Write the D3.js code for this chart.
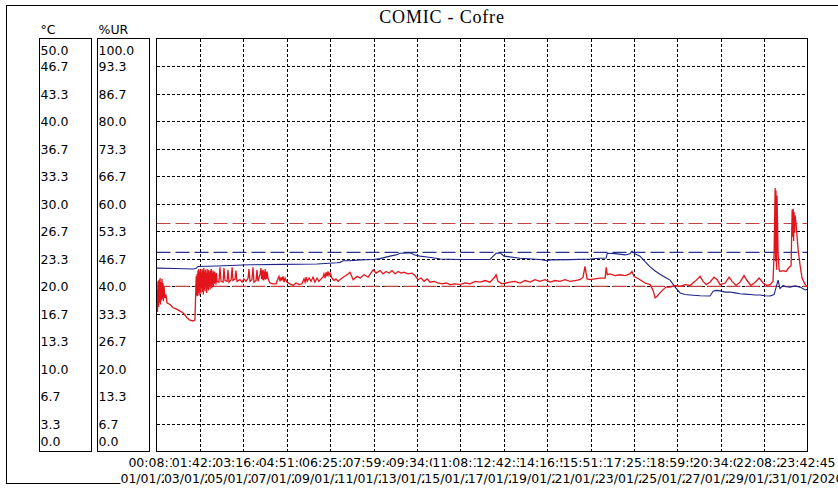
<!DOCTYPE html>
<html>
<head>
<meta charset="utf-8">
<script src="https://cdn.jsdelivr.net/npm/d3@7"></script>
<style>
  body { margin: 0; background: #fff; }
  svg { display: block; }
  text { font-family: "DejaVu Sans", sans-serif; font-size: 12.5px; fill: #000; }
</style>
</head>
<body>
<div class="js-chart"></div>
<script>
var title = 'COMIC - Cofre';

var tempLabels = ['50.0', '46.7', '43.3', '40.0', '36.7', '33.3', '30.0', '26.7',
  '23.3', '20.0', '16.7', '13.3', '10.0', '6.7', '3.3', '0.0'];
var humLabels = ['100.0', '93.3', '86.7', '80.0', '73.3', '66.7', '60.0', '53.3',
  '46.7', '40.0', '33.3', '26.7', '20.0', '13.3', '6.7', '0.0'];

var timeLabels = ['00:08:10', '01:42:28', '03:16:46', '04:51:05', '06:25:23', '07:59:41',
  '09:34:00', '11:08:18', '12:42:36', '14:16:55', '15:51:13', '17:25:31', '18:59:50',
  '20:34:08', '22:08:26', '23:42:45'];
var dateLabels = ['01/01/2020', '03/01/2020', '05/01/2020', '07/01/2020', '09/01/2020',
  '11/01/2020', '13/01/2020', '15/01/2020', '17/01/2020', '19/01/2020', '21/01/2020',
  '23/01/2020', '25/01/2020', '27/01/2020', '29/01/2020', '31/01/2020'];

// days since the first sample
var spanDays = 30.98;

// temperature, degC
var tempSeries = [
  [0.02, 19.6], [0.05, 16.9], [0.07, 20.6], [0.10, 17.5], [0.12, 20.8], [0.14, 18.0],
  [0.17, 21.0], [0.19, 17.8], [0.21, 20.5], [0.24, 18.3], [0.26, 20.9], [0.29, 18.5],
  [0.31, 20.4], [0.33, 18.2], [0.36, 19.9], [0.40, 18.6], [0.45, 19.0], [0.50, 18.0],
  [0.64, 17.8], [0.79, 17.4], [0.98, 17.2], [1.12, 17.0], [1.26, 16.8], [1.36, 16.5],
  [1.45, 16.2], [1.59, 15.9], [1.74, 15.8], [1.83, 15.9],
  [1.87, 19.6], [1.89, 21.2], [1.91, 18.9], [1.93, 21.5], [1.95, 18.8], [1.97, 21.9],
  [1.99, 19.2], [2.01, 22.1], [2.03, 18.9], [2.05, 21.8], [2.07, 19.5], [2.09, 22.0],
  [2.11, 19.1], [2.13, 21.7], [2.15, 19.8], [2.17, 22.1], [2.19, 19.3], [2.21, 21.9],
  [2.23, 19.0], [2.25, 22.2], [2.27, 19.6], [2.29, 21.8], [2.31, 19.4], [2.33, 22.0],
  [2.35, 19.9], [2.37, 21.6], [2.39, 19.2], [2.41, 22.1], [2.43, 19.7], [2.45, 21.8],
  [2.47, 19.5], [2.49, 22.0], [2.51, 20.1], [2.53, 21.7], [2.55, 19.6], [2.57, 21.9],
  [2.59, 20.0], [2.61, 22.1], [2.63, 19.8], [2.65, 21.6], [2.67, 20.2], [2.69, 21.9],
  [2.71, 19.9], [2.73, 21.7], [2.75, 20.3], [2.77, 21.8], [2.79, 20.4], [2.81, 21.5],
  [2.83, 20.2], [2.85, 21.6], [2.88, 20.6],
  [2.97, 20.5], [3.02, 22.3], [3.07, 20.6], [3.17, 20.5], [3.21, 22.2], [3.26, 20.7],
  [3.36, 20.6], [3.40, 22.0], [3.45, 20.5], [3.55, 20.8], [3.60, 22.3], [3.64, 20.7],
  [3.74, 20.9], [3.78, 21.9], [3.83, 20.6], [3.97, 20.8], [4.07, 20.5], [4.16, 20.9],
  [4.26, 20.6], [4.36, 21.0], [4.40, 22.1], [4.45, 20.6], [4.54, 20.8], [4.59, 22.3],
  [4.64, 20.5], [4.74, 20.7], [4.78, 22.0], [4.83, 20.6], [4.93, 21.5], [4.97, 22.2],
  [5.00, 20.9], [5.02, 21.9], [5.05, 20.8], [5.07, 22.0], [5.10, 20.7], [5.12, 21.8],
  [5.15, 20.9], [5.17, 22.1], [5.19, 20.8], [5.21, 21.7], [5.24, 20.9], [5.26, 21.8],
  [5.31, 20.9], [5.40, 20.4], [5.55, 20.3], [5.69, 20.3], [5.78, 20.9], [5.83, 21.2],
  [5.88, 20.6], [5.93, 21.1], [5.97, 20.7], [6.02, 21.2], [6.07, 20.5], [6.12, 21.0],
  [6.21, 20.5], [6.35, 20.3], [6.50, 20.1], [6.64, 20.4], [6.78, 20.2], [6.92, 20.3],
  [7.02, 20.9], [7.07, 20.5], [7.12, 21.1], [7.17, 20.6], [7.26, 21.0], [7.35, 20.6],
  [7.45, 21.1], [7.54, 20.5], [7.64, 21.0], [7.73, 20.6], [7.83, 20.9], [7.92, 21.1],
  [7.97, 21.5], [8.02, 21.0], [8.07, 21.7], [8.12, 21.2], [8.16, 21.8], [8.21, 21.3],
  [8.26, 21.6], [8.35, 21.0], [8.45, 20.7], [8.54, 20.9], [8.64, 20.6], [8.73, 20.8],
  [8.88, 21.1], [9.02, 21.3], [9.21, 21.7], [9.36, 20.8], [9.55, 21.2], [9.69, 21.0],
  [9.88, 21.4], [10.07, 21.1], [10.31, 22.0], [10.45, 21.6], [10.64, 21.9], [10.78, 21.5],
  [10.92, 21.8], [11.07, 21.6], [11.21, 21.9], [11.35, 21.5], [11.50, 21.8], [11.64, 21.6],
  [11.78, 21.7], [11.97, 21.5], [12.16, 21.6], [12.30, 21.3], [12.45, 20.8], [12.59, 21.0],
  [12.73, 20.6], [12.88, 20.9], [13.02, 20.5], [13.21, 20.6], [13.40, 20.4], [13.59, 20.3],
  [13.78, 20.4], [13.97, 20.2], [14.21, 20.3], [14.44, 20.2], [14.68, 20.4], [14.92, 20.3],
  [15.16, 20.6], [15.40, 20.5], [15.64, 20.7], [15.87, 20.5], [16.06, 21.0], [16.16, 21.4],
  [16.25, 20.6], [16.44, 20.3], [16.63, 20.4], [16.82, 20.5], [17.06, 20.6], [17.30, 20.4],
  [17.54, 20.7], [17.78, 20.5], [18.01, 20.8], [18.25, 20.6], [18.49, 20.8], [18.73, 20.5],
  [18.97, 20.7], [19.20, 20.6], [19.44, 20.8], [19.68, 20.6], [19.92, 20.7], [20.15, 20.8],
  [20.30, 21.1], [20.39, 22.4], [20.49, 20.9], [20.63, 20.8], [20.87, 20.9], [21.11, 21.0],
  [21.35, 21.0], [21.40, 22.3], [21.45, 21.4], [21.58, 21.5], [21.82, 21.3], [22.06, 21.4],
  [22.30, 21.3], [22.53, 21.5], [22.63, 21.8], [22.72, 21.2], [22.87, 21.0], [23.01, 20.8],
  [23.25, 20.4], [23.49, 20.2], [23.63, 19.5], [23.73, 18.6], [23.82, 18.8], [23.96, 19.2],
  [24.11, 19.6], [24.25, 19.9], [24.44, 19.9], [24.68, 20.1], [24.92, 20.0], [25.15, 20.2],
  [25.39, 20.1], [25.63, 20.6], [25.87, 21.2], [26.01, 20.6], [26.16, 20.2], [26.34, 20.5],
  [26.53, 21.1], [26.68, 20.8], [26.82, 20.2], [27.06, 20.4], [27.25, 21.1], [27.39, 20.6],
  [27.58, 20.1], [27.77, 20.5], [27.96, 21.3], [28.10, 20.7], [28.29, 20.1], [28.49, 20.5],
  [28.68, 21.0], [28.87, 20.4], [29.06, 20.1], [29.20, 20.2], [29.34, 20.6], [29.39, 24.0],
  [29.44, 31.9], [29.46, 23.0], [29.48, 31.6], [29.51, 22.0], [29.53, 31.0], [29.58, 24.0],
  [29.63, 22.0], [29.67, 21.8], [29.82, 21.9], [29.96, 21.8], [30.11, 22.3], [30.20, 22.5],
  [30.25, 29.3], [30.27, 26.0], [30.30, 29.4], [30.32, 25.5], [30.34, 29.0], [30.37, 26.5],
  [30.39, 28.6], [30.44, 27.5], [30.53, 24.5], [30.63, 22.5], [30.72, 21.0], [30.87, 20.2],
  [30.98, 19.9]
];

// relative humidity, %UR
var humSeries = [
  [0.02, 44.4], [0.88, 44.3], [1.74, 44.2], [1.88, 44.3], [1.97, 44.8], [2.88, 44.9],
  [4.45, 45.2], [6.02, 45.3], [7.64, 45.4], [8.59, 45.7], [8.73, 45.8], [8.88, 46.2],
  [9.21, 46.2], [9.69, 46.4], [10.31, 46.5], [10.64, 46.7], [11.11, 47.3], [11.40, 47.6],
  [11.59, 48.0], [12.07, 48.1], [12.30, 47.6], [12.54, 47.3], [12.88, 47.1], [13.30, 46.8],
  [13.49, 46.6], [14.44, 46.5], [15.87, 46.5], [16.16, 48.0], [16.35, 48.1], [16.54, 47.3],
  [17.30, 46.8], [18.25, 46.5], [18.59, 46.2], [18.73, 46.4], [19.68, 46.45], [20.63, 46.6],
  [21.11, 46.8], [21.40, 46.85], [21.45, 48.0], [21.82, 47.9], [22.30, 47.6], [22.53, 47.9],
  [22.63, 48.5], [22.77, 47.9], [23.01, 47.3], [23.25, 46.0], [23.49, 44.7], [23.73, 43.7],
  [23.96, 42.9], [24.20, 42.2], [24.44, 41.5], [24.68, 39.8], [24.92, 38.4], [25.15, 38.0],
  [25.39, 37.9], [25.87, 37.7], [26.34, 37.65], [26.49, 38.8], [26.63, 39.0], [26.82, 38.9],
  [27.06, 38.6], [27.29, 38.6], [27.53, 38.4], [27.77, 38.2], [28.01, 38.1], [28.25, 38.0],
  [28.49, 37.9], [28.72, 37.9], [28.96, 37.7], [29.20, 37.65], [29.39, 38.0], [29.58, 41.5],
  [29.67, 39.5], [29.82, 40.2], [29.96, 39.9], [30.15, 39.8], [30.39, 40.1], [30.63, 39.8],
  [30.87, 39.1], [30.98, 39.3]
];

var tempLimits = [27.6, 20.0];
var humLimits = [48.2];

var svg;

function drawLabelRow(g, labels, xPos, y) {
  // each label sits on an opaque cell, later ones hide the end of the previous one
  labels.forEach(function(label, i) {
    var cell = g.append('g');
    var t = cell.append('text')
      .attr('x', xPos(i))
      .attr('y', y)
      .attr('text-anchor', 'middle')
      .text(label);
    var b = t.node().getBBox();
    cell.insert('rect', 'text')
      .attr('x', b.x)
      .attr('y', b.y)
      .attr('width', b.width)
      .attr('height', b.height)
      .attr('fill', '#fff');
  });
}

function render() {
  var left = 156.5, right = 807.5, top = 38.5, bottom = 451.5;

  var x = d3.scaleLinear().domain([0, spanDays]).range([left, right]);
  var xTick = d3.scalePoint().domain(d3.range(timeLabels.length)).range([left, right]);
  var yTemp = d3.scaleLinear().domain([0, 50]).range([bottom, top]);
  var yHum = d3.scaleLinear().domain([0, 100]).range([bottom, top]);
  var yTick = d3.scalePoint().domain(d3.range(tempLabels.length)).range([top, bottom]);

  // outer frame
  svg.append('rect')
    .attr('x', 6.5).attr('y', 5.5)
    .attr('width', 900).attr('height', 478)
    .attr('fill', 'none').attr('stroke', '#000');

  svg.append('text')
    .attr('x', 442).attr('y', 23)
    .attr('text-anchor', 'middle')
    .style('font-family', '"Liberation Serif", serif')
    .style('font-size', '18px')
    .style('letter-spacing', '0.8px')
    .text(title);

  // value boxes
  var boxes = [
    { unit: '\u00b0C', labels: tempLabels, x0: 39.5, x1: 91.5 },
    { unit: '%UR', labels: humLabels, x0: 97.5, x1: 149.5 }
  ];
  boxes.forEach(function(b) {
    svg.append('text').attr('x', b.x0 + 1).attr('y', 34).text(b.unit);
    svg.append('rect')
      .attr('x', b.x0).attr('y', top)
      .attr('width', b.x1 - b.x0).attr('height', bottom - top)
      .attr('fill', 'none').attr('stroke', '#000')
      .attr('shape-rendering', 'crispEdges');
    svg.selectAll(null)
      .data(b.labels)
      .enter()
      .append('text')
      .attr('x', b.x0 + 1)
      .attr('y', function(d, i) {
        return Math.min(Math.max(yTick(i) + 5, top + 16.5), bottom - 6);
      })
      .text(function(d) { return d; });
  });

  // grid
  var grid = svg.append('g')
    .attr('stroke', '#000')
    .attr('stroke-dasharray', '3,2')
    .attr('shape-rendering', 'crispEdges');
  grid.selectAll('line.h')
    .data(d3.range(1, tempLabels.length - 1))
    .enter().append('line')
    .attr('x1', left).attr('x2', right)
    .attr('y1', function(i) { return Math.round(yTick(i)) + 0.5; })
    .attr('y2', function(i) { return Math.round(yTick(i)) + 0.5; });
  grid.selectAll('line.v')
    .data(d3.range(1, timeLabels.length - 1))
    .enter().append('line')
    .attr('y1', top).attr('y2', bottom)
    .attr('x1', function(i) { return Math.round(xTick(i)) + 0.5; })
    .attr('x2', function(i) { return Math.round(xTick(i)) + 0.5; });

  // limit lines
  svg.selectAll('line.tlim')
    .data(tempLimits)
    .enter().append('line')
    .attr('x1', left).attr('x2', right)
    .attr('y1', function(d) { return yTemp(d); })
    .attr('y2', function(d) { return yTemp(d); })
    .attr('stroke', '#bf4545')
    .attr('stroke-width', 1.2)
    .attr('stroke-dasharray', '14,5');
  svg.selectAll('line.hlim')
    .data(humLimits)
    .enter().append('line')
    .attr('x1', left).attr('x2', right)
    .attr('y1', function(d) { return yHum(d); })
    .attr('y2', function(d) { return yHum(d); })
    .attr('stroke', '#27338c')
    .attr('stroke-width', 1.2)
    .attr('stroke-dasharray', '14,5');

  var humLine = d3.line()
    .x(function(d) { return x(d[0]); })
    .y(function(d) { return yHum(d[1]); });
  var tempLine = d3.line()
    .x(function(d) { return x(d[0]); })
    .y(function(d) { return yTemp(d[1]); });

  svg.append('path')
    .datum(humSeries)
    .attr('d', humLine)
    .attr('fill', 'none')
    .attr('stroke', '#1c2487')
    .attr('stroke-width', 1.1);

  svg.append('path')
    .datum(tempSeries)
    .attr('d', tempLine)
    .attr('fill', 'none')
    .attr('stroke', '#e3141c')
    .attr('stroke-width', 1.3);

  // plot border
  svg.append('rect')
    .attr('x', left).attr('y', top)
    .attr('width', right - left).attr('height', bottom - top)
    .attr('fill', 'none').attr('stroke', '#000')
    .attr('shape-rendering', 'crispEdges');

  drawLabelRow(svg.append('g'), timeLabels, xTick, 467);
  drawLabelRow(svg.append('g'), dateLabels, xTick, 483);
}

function start() {
  svg = d3.select('.js-chart')
    .append('svg')
    .attr('width', 838)
    .attr('height', 488);

  render();
}

start();
</script>
</body>
</html>
